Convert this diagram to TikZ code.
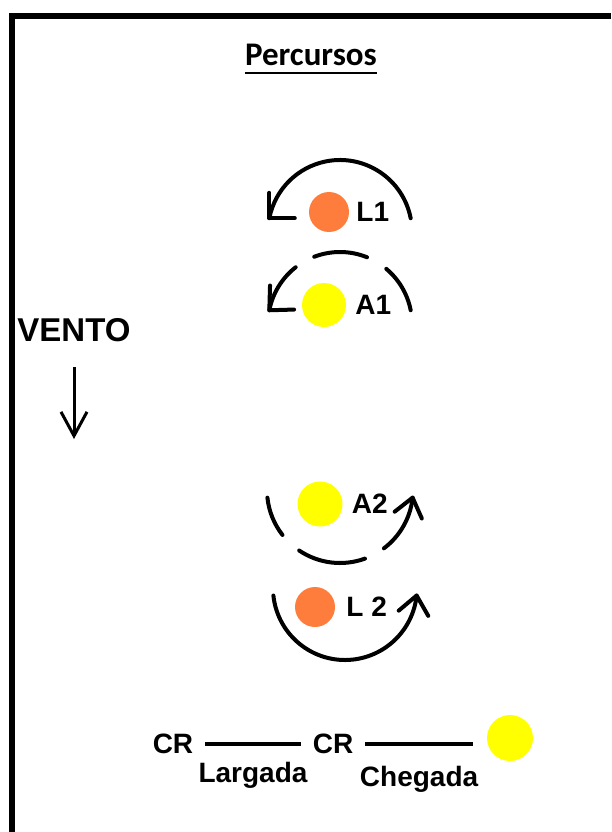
\documentclass[tikz,border=0pt]{standalone}
\usepackage{fontspec}
\setmainfont{Liberation Sans}
\newfontfamily\titlefont{Carlito}
\usepackage{tikz}
\usetikzlibrary{positioning, arrows.meta, calc}
\definecolor{laranja}{RGB}{255,125,60}
\definecolor{amarelo}{RGB}{255,255,0}
\tikzset{
    barb/.pic = {
    \draw[line width=4pt, line cap=round, line join=round] (-18,#1) -- (0,0) -- (-18,-#1);
    },
    boia/.style={circle, draw=none, inner sep=0pt, minimum size=40pt},
    rotulo/.style={inner sep=0pt, font=\fontsize{28}{31}\selectfont\bfseries},
    arco/.style={line width=4pt, line cap=round},
    linha/.style={line width=4pt},
}

\begin{document}
\begin{tikzpicture}[x=1pt, y=-1pt]
    \tikzset{
      node distance=9pt,
    }
    \useasboundingbox (0,0) rectangle (611,832);

    % moldura
    \draw[line width=6pt] (611,16) -- (12,16) -- (12,832);

    \node[inner sep=0pt, anchor=base, font=\titlefont\fontsize{33}{36}\selectfont\bfseries] (titulo) at (311,66) {Percursos};
    \draw[line width=2.5pt] ([yshift=-7pt]titulo.base west) -- ([yshift=-7pt]titulo.base east);

    % vento
    \node[inner sep=0pt, font=\fontsize{33}{36}\selectfont\bfseries] (vento) at (74,330) {VENTO};
    \coordinate (ventofim) at (74,439);
    \draw[line width=3pt, -{Straight Barb[length=24pt, width=26pt]}, shorten <=25pt] (vento) -- (ventofim);

    % L1
    \node[boia, fill=laranja] (l1) at (329,212) {};
    \node[rotulo, right=7pt of l1] (l1txt) {L1};
    \coordinate (vl1) at (340,232);
    \draw[arco] ($(vl1)+(-11:72)$) arc[start angle=-11, end angle=-169, radius=72] coordinate (tl1);
    \path (tl1) pic[rotate=-135] {barb=18};

    % A1
    \node[boia, fill=amarelo, minimum size=44pt] (a1) at (324,305) {};
    \node[rotulo, right=of a1] (a1txt) {A1};
    \coordinate (va1) at (340,324);
    \draw[arco] ($(va1)+(-11:72)$) arc[start angle=-11, end angle=-50, radius=72];
    \draw[arco] ($(va1)+(-68:72)$) arc[start angle=-68, end angle=-111, radius=72];
    \draw[arco] ($(va1)+(-128:72)$) arc[start angle=-128, end angle=-169, radius=72] coordinate (ta1);
    \path (ta1) pic[rotate=-135] {barb=17};

    % A2
    \node[boia, fill=amarelo, minimum size=45pt] (a2) at (320,504) {};
    \node[rotulo, right=of a2] (a2txt) {A2};
    \coordinate (va2) at (340,490);
    \draw[arco] ($(va2)+(174:73)$) arc[start angle=174, end angle=142, radius=73];
    \draw[arco] ($(va2)+(124:73)$) arc[start angle=124, end angle=70, radius=73];
    \draw[arco] ($(va2)+(53:73)$) arc[start angle=53, end angle=6, radius=73] coordinate (ta2);
    \path (ta2) pic[rotate=76] {barb=14};

    % L2
    \node[boia, fill=laranja] (l2) at (315,607) {};
    \node[rotulo, right=11pt of l2] (l2txt) {L 2};
    \coordinate (vl2) at (345,588);
    \draw[arco] ($(vl2)+(174:72)$) arc[start angle=174, end angle=6, radius=72] coordinate (tl2);
    \path (tl2) pic[rotate=80] {barb=15};

    % linha de largada e chegada
    \node[rotulo, inner xsep=12pt] (cr1) at (173,744) {CR};
    \node[rotulo, inner xsep=12pt] (cr2) at (333,744) {CR};
    \node[boia, fill=amarelo, minimum size=46pt] (meta) at (510,738) {};

    \draw[linha] (cr1) -- node[rotulo, below=16pt] (largada) {Largada} (cr2);
    \draw[linha] (cr2) -- node[rotulo, below=20pt] (chegada) {Chegada} ([xshift=-14pt]meta.west |- cr2);

  \end{tikzpicture}
\end{document}
